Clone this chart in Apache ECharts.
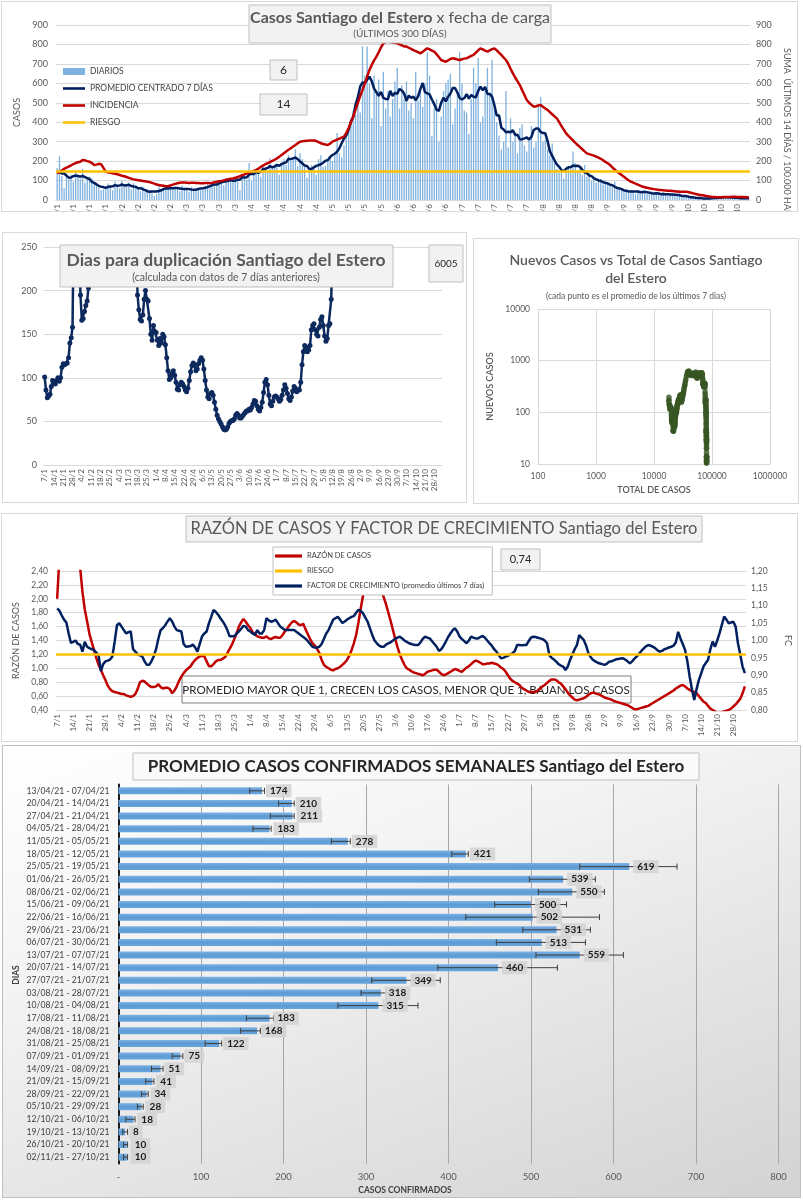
<!DOCTYPE html>
<html><head><meta charset="utf-8">
<script src="https://cdn.jsdelivr.net/npm/echarts@6/dist/echarts.min.js"></script>
<style>
body{margin:0;background:#fff;width:803px;height:1200px;position:relative;overflow:hidden}
.c{position:absolute;box-sizing:border-box;border:1px solid #d9d9d9;background:#fff}
</style></head><body>
<div id="c1" class="c" style="left:1px;top:1px;width:797px;height:211px"></div>
<div id="c2" class="c" style="left:2px;top:232px;width:465px;height:271px"></div>
<div id="c3" class="c" style="left:473px;top:238px;width:326px;height:266px"></div>
<div id="c4" class="c" style="left:1px;top:513px;width:797px;height:229px"></div>
<div id="c5" class="c" style="left:2px;top:745px;width:799px;height:453px;border-color:#bfbfbf;background:linear-gradient(160deg,#ffffff 0%,#f3f3f3 35%,#e2e2e2 70%,#d3d3d3 100%)"></div>
<script>
// ---------------- DATA ----------------
const START_DATE = [2021, 0, 7];   // 7/1/2021, 300 days
const NUM_DAYS = 300;

// daily confirmed cases (by upload date)
const dailyCases = [
165,225,125,60,140,105,130, 95,150,130,110,160,90,105, 120,110,90,80,60,50,55, 60,85,75,50,95,70,60,
100,65,80,90,55,85,70, 60,45,70,40,55,50,35, 20,30,75,45,50,70,60, 65,55,70,60,45,75,62,
50,40,65,55,45,60,50, 55,70,80,60,65,85,80, 90,100,75,110,95,105,100, 110,120,50,115,130,105,190,
100,130,150,140,120,175,160, 150,215,165,170,185,130,190, 210,180,230,200,215,260,175, 240,210,170,115,150,180,160,
130,210,230,170,175,210,220, 200,230,345,240,220,280,350, 380,400,460,440,520,450,790, 640,790,600,420,640,560,620,
380,660,470,560,430,520,610, 680,470,590,520,610,460,500, 420,660,510,560,480,600,760, 640,330,470,520,300,430,560,
600,620,650,390,470,540,760, 600,460,450,340,520,680,600, 730,400,430,560,680,550,720, 480,400,330,260,300,560,270,
420,300,350,240,370,390,280, 250,310,380,270,300,480,530, 300,310,260,230,290,200,160, 140,150,110,145,170,160,250,
190,150,175,130,180,120,140, 100,120,90,110,105,80,100, 85,70,65,95,55,60,50, 40,55,35,50,45,30,50,
45,50,35,30,40,45,30, 35,30,25,40,30,20,35, 30,25,20,35,25,15,20, 15,10,20,12,8,10,5,
8,10,5,12,6,9,12, 15,10,18,12,20,8,14, 10,8,9,8,10,9];

// incidence: sum of last 14 days / 100.000 inhabitants
const incidence = [
137,145,152,160,166,172,178,185,190,194, 197,206,204,200,197,190,180,182,186,184,
165,146,142,140,137,135,132,129,125,122, 118,114,110,106,104,102,100,98,96,94,
92,88,84,80,77,75,73,71,72,75, 79,83,86,89,90,90,89,88,89,89,
88,87,86,86,87,88,86,88,91,94, 96,98,101,104,107,109,111,114,118,123,
128,132,137,141,145,150,154,162,170,177, 184,189,195,201,207,214,222,231,240,249,
258,266,275,283,292,300,302,304,305,306, 306,306,303,298,292,288,285,283,290,300,
305,310,316,321,326,345,370,400,429,465, 500,535,566,600,635,669,695,718,737,760,
785,806,812,815,812,810,808,806,800,795, 790,789,783,777,771,766,760,754,762,772,
780,775,768,763,750,735,720,715,711,718, 725,729,726,723,720,724,727,729,735,741,
746,758,770,780,775,768,763,770,776,780, 770,758,746,733,720,700,675,651,630,610,
591,565,540,514,500,490,480,482,486,489, 480,471,463,452,441,430,420,400,380,362,
343,330,318,306,294,283,272,261,250,240, 236,232,228,223,218,212,204,196,189,180,
168,157,146,137,128,119,110,102,94,89, 84,79,74,69,66,63,60,58,56,54,
52,51,50,49,48,47,46,45,44,43, 43,43,43,40,37,34,31,28,26,24,
22,20,18,16,15,14,14,14,15,15, 16,16,17,17,16,16,15,15,14,14];

const RIESGO_INCIDENCIA = 150;
const BOX_TOP_1 = '6';
const BOX_TOP_2 = '14';

// days for doubling (computed with previous 7 days)
const doublingDays = [
101,86,77,79,81,90,97,95,93,97, 100,96,100,112,116,115,116,117,123,140,
146,158,290,330,310,280,260,195,166,168, 176,183,188,203,270,300,340,380,420,460,
500,520,560,600,580,550,520,500,470,450, 430,420,410,400,390,380,370,360,350,340,
330,320,310,300,290,285,280,275,270,265, 195,178,167,165,172,190,200,190,188,168,
150,143,160,153,152,143,137,145,140,150, 147,138,123,108,98,100,105,108,103,95,
87,86,92,95,93,90,86,84,88,97, 107,114,117,115,108,110,116,120,123,120,
110,97,86,78,76,82,83,80,72,64, 57,53,50,47,44,41,40,41,44,48,
50,51,51,53,57,59,57,54,54,56, 58,60,62,62,64,63,66,70,74,73,
68,64,62,66,72,83,95,98,92,80, 70,68,73,78,79,78,76,73,75,80,
86,92,88,82,76,74,78,85,90,88, 84,86,86,95,115,130,137,135,130,132,
137,155,160,162,155,150,148,158,167,170, 160,148,142,145,160,162,190,260];
const BOX_DOUBLING = '6005';

// total cases before the first day shown (scatter x origin)
const TOTAL_BEFORE = 17700;

// case ratio (left axis) and growth factor (right axis)
const razonCasos = [
2.00,2.60,3.00,3.20,3.30,3.30,3.20,3.00,2.80,2.60, 2.45,2.10,1.85,1.68,1.50,1.38,1.27,1.15,1.05,0.98,
0.90,0.83,0.75,0.70,0.67,0.66,0.65,0.64,0.63,0.63, 0.61,0.60,0.59,0.60,0.63,0.70,0.80,0.82,0.81,0.78,
0.75,0.73,0.73,0.74,0.77,0.73,0.71,0.72,0.72,0.70, 0.64,0.68,0.74,0.82,0.88,0.93,0.97,1.00,1.03,1.08,
1.12,1.15,1.17,1.18,1.17,1.10,1.03,1.03,1.06,1.10, 1.12,1.12,1.14,1.16,1.22,1.28,1.34,1.42,1.50,1.60,
1.66,1.71,1.67,1.62,1.58,1.52,1.49,1.46,1.45,1.44, 1.44,1.46,1.43,1.42,1.44,1.45,1.44,1.44,1.48,1.53,
1.57,1.62,1.66,1.68,1.66,1.63,1.62,1.64,1.56,1.49, 1.42,1.36,1.33,1.28,1.22,1.12,1.05,1.02,1.00,0.98,
0.97,0.99,1.00,1.02,1.05,1.08,1.12,1.18,1.26,1.36, 1.48,1.66,1.86,2.05,2.20,2.32,2.42,2.45,2.42,2.35,
2.25,2.12,2.02,1.92,1.80,1.68,1.55,1.42,1.30,1.20, 1.12,1.05,1.00,0.98,0.96,0.94,0.93,0.92,0.91,0.90,
0.92,0.95,0.96,0.97,0.98,0.98,0.95,0.92,0.90,0.91, 0.93,0.95,0.97,0.99,0.98,0.96,0.95,0.98,1.01,1.03,
1.06,1.09,1.11,1.10,1.08,1.06,1.06,1.07,1.07,1.08, 1.07,1.06,1.04,1.01,0.99,0.95,0.90,0.85,0.82,0.80,
0.78,0.76,0.72,0.70,0.68,0.66,0.66,0.66,0.66,0.68, 0.71,0.74,0.76,0.79,0.82,0.84,0.84,0.83,0.80,0.78,
0.74,0.70,0.65,0.61,0.58,0.55,0.54,0.55,0.56,0.57, 0.59,0.62,0.64,0.65,0.64,0.63,0.62,0.60,0.58,0.57,
0.56,0.55,0.53,0.52,0.51,0.50,0.49,0.48,0.47,0.45, 0.43,0.41,0.41,0.42,0.43,0.44,0.45,0.46,0.48,0.50,
0.52,0.54,0.56,0.58,0.60,0.62,0.64,0.66,0.68,0.71, 0.73,0.75,0.76,0.74,0.71,0.69,0.67,0.66,0.64,0.60,
0.56,0.52,0.50,0.46,0.42,0.40,0.38,0.36,0.36,0.37, 0.38,0.39,0.40,0.42,0.45,0.48,0.52,0.56,0.64,0.74];

const factorCrecimiento = [
1.092,1.086,1.072,1.060,1.052,1.020,0.993,0.996,1.000,0.990, 0.988,0.968,0.996,0.982,0.978,0.975,0.972,0.965,0.958,0.912,
0.932,0.940,0.942,0.945,0.954,0.996,1.044,1.050,1.040,1.030, 1.020,1.024,1.026,0.975,0.968,0.960,0.957,0.954,0.940,0.930,
0.930,0.940,0.955,0.975,1.005,1.030,1.036,1.044,1.055,1.064, 1.055,1.040,1.030,1.028,1.026,0.990,0.982,0.983,0.984,0.988,
0.980,0.968,0.990,1.012,1.020,1.026,1.050,1.068,1.088,1.082, 1.074,1.064,1.055,1.044,1.030,1.012,1.012,1.012,1.020,1.026,
1.034,1.042,1.040,1.030,1.026,1.020,1.016,1.030,1.020,1.020, 1.030,1.064,1.058,1.054,1.056,1.060,1.050,1.040,1.035,1.030,
1.030,1.030,1.030,1.030,1.025,1.020,1.015,1.010,1.005,0.998, 0.990,0.982,0.980,0.980,0.982,0.990,1.005,1.020,1.030,1.045,
1.060,1.064,1.068,1.060,1.050,1.055,1.060,1.064,1.068,1.070, 1.080,1.088,1.085,1.078,1.066,1.054,1.035,1.016,1.000,0.992,
0.985,0.982,0.982,0.988,0.992,0.995,1.000,1.005,1.008,1.011, 1.006,1.000,0.996,0.992,0.990,0.988,0.987,0.987,0.995,1.005,
1.011,1.008,1.006,0.998,0.990,0.982,0.970,0.975,0.985,0.997, 1.010,1.020,1.030,1.035,1.025,1.011,1.004,0.998,0.992,1.000,
1.011,1.008,1.006,1.006,1.010,1.013,1.008,1.000,0.992,0.985, 0.975,0.968,0.958,0.949,0.950,0.954,0.956,0.960,0.963,0.970,
0.987,0.987,0.986,0.987,0.987,0.998,1.008,1.011,1.010,1.008, 1.006,1.004,1.000,0.992,0.958,0.950,0.945,0.939,0.932,0.928,
0.925,0.915,0.925,0.944,0.960,0.975,0.987,1.016,1.008,1.001, 0.985,0.963,0.952,0.944,0.940,0.936,0.934,0.932,0.930,0.933,
0.939,0.940,0.943,0.946,0.947,0.948,0.949,0.945,0.940,0.934, 0.940,0.948,0.954,0.962,0.970,0.977,0.983,0.987,0.985,0.982,
0.978,0.972,0.968,0.970,0.975,0.977,0.980,0.982,0.985,0.995, 1.025,1.006,0.990,0.973,0.940,0.896,0.860,0.829,0.860,0.886,
0.905,0.925,0.935,0.944,0.975,0.997,0.982,1.000,1.021,1.045, 1.069,1.060,1.049,1.052,1.054,1.040,0.992,0.960,0.925,0.906];
const RIESGO_RAZON = 1.2;
const BOX_RAZON = '0,74';

// weekly averages
const weekLabels = ['13/04/21 - 07/04/21','20/04/21 - 14/04/21','27/04/21 - 21/04/21','04/05/21 - 28/04/21','11/05/21 - 05/05/21',
'18/05/21 - 12/05/21','25/05/21 - 19/05/21','01/06/21 - 26/05/21','08/06/21 - 02/06/21','15/06/21 - 09/06/21',
'22/06/21 - 16/06/21','29/06/21 - 23/06/21','06/07/21 - 30/06/21','13/07/21 - 07/07/21','20/07/21 - 14/07/21',
'27/07/21 - 21/07/21','03/08/21 - 28/07/21','10/08/21 - 04/08/21','17/08/21 - 11/08/21','24/08/21 - 18/08/21',
'31/08/21 - 25/08/21','07/09/21 - 01/09/21','14/09/21 - 08/09/21','21/09/21 - 15/09/21','28/09/21 - 22/09/21',
'05/10/21 - 29/09/21','12/10/21 - 06/10/21','19/10/21 - 13/10/21','26/10/21 - 20/10/21','02/11/21 - 27/10/21'];
const weekAvg  = [174,210,211,183,278,421,619,539,550,500,502,531,513,559,460,349,318,315,183,168,122,75,51,41,34,28,18,8,10,10];
const weekLow  = [159,194,184,163,258,404,559,498,509,456,421,490,458,506,387,307,294,266,155,148,105,65,40,33,28,23,9,5,6,6];
const weekHigh = [177,213,213,185,281,424,677,578,589,543,583,572,566,612,532,390,330,363,188,172,125,78,54,43,36,30,20,11,11,11];

// ---------------- HELPERS ----------------
const FONT = 'Lato, "Liberation Sans", sans-serif';
const dates = [];
for (let i = 0; i < NUM_DAYS; i++) {
  const d = new Date(START_DATE[0], START_DATE[1], START_DATE[2] + i);
  dates.push(d.getDate() + '/' + (d.getMonth() + 1));
}
const centered7 = dailyCases.map((_, i) => {
  let s = 0, n = 0;
  for (let k = i - 3; k <= i + 3; k++) if (k >= 0 && k < dailyCases.length) { s += dailyCases[k]; n++; }
  return +(s / n).toFixed(1);
});
const scatterPts = [];
(function () {
  let cum = TOTAL_BEFORE;
  for (let i = 0; i < dailyCases.length; i++) {
    cum += dailyCases[i];
    let s = 0, n = 0;
    for (let k = Math.max(0, i - 6); k <= i; k++) { s += dailyCases[k]; n++; }
    scatterPts.push([cum, +(s / n).toFixed(1)]);
  }
})();
const Z = 100;
function box(x, y, w, h, text, font, fill) {
  return { type: 'group', children: [
    { type: 'rect', z: Z, shape: { x: x, y: y, width: w, height: h }, style: { fill: fill || '#f2f2f2', stroke: '#bfbfbf', lineWidth: 1 } },
    { type: 'text', z: Z + 1, x: x + w / 2, y: y + h / 2, style: { text: text, font: font, fill: '#262626', align: 'center', verticalAlign: 'middle' } }
  ]};
}
function dateXAxis() {
  return { type: 'category', data: dates, boundaryGap: true,
    axisLine: { show: true, lineStyle: { color: '#d9d9d9' } }, axisTick: { show: false },
    axisLabel: { interval: 6, rotate: 90, fontSize: 8, color: '#595959', fontFamily: FONT, margin: 4 } };
}
const gridLine = { show: true, lineStyle: { color: '#d9d9d9', width: 1 } };
const LINE_ICON = 'path://M0,0L22,0L22,2.6L0,2.6Z';
const gridBase = { outerBoundsMode: 'none', containLabel: false };

// ---------------- CHART 1 ----------------
const c1 = echarts.init(document.getElementById('c1'));
c1.setOption({
  animation: false,
  textStyle: { fontFamily: FONT },
  grid: Object.assign({ left: 54, width: 694, top: 23, height: 175 }, gridBase),
  legend: { orient: 'vertical', left: 61, top: 65, padding: 0, itemGap: 8, itemWidth: 22, itemHeight: 7, symbolKeepAspect: true,
    textStyle: { fontSize: 8.5, color: '#404040', fontFamily: FONT },
    data: [{ name: 'DIARIOS', icon: 'rect' }, { name: 'PROMEDIO CENTRADO 7 DÍAS', icon: LINE_ICON }, { name: 'INCIDENCIA', icon: LINE_ICON }, { name: 'RIESGO', icon: LINE_ICON }] },
  xAxis: dateXAxis(),
  yAxis: [
    { type: 'value', min: 0, max: 900, interval: 100, name: 'CASOS', nameLocation: 'middle', nameGap: 30,
      nameTextStyle: { fontSize: 9, color: '#595959' }, axisLabel: { fontSize: 9, color: '#595959', margin: 8 },
      splitLine: gridLine, axisLine: { show: false }, axisTick: { show: false } },
    { type: 'value', min: 0, max: 900, interval: 100, position: 'right',
      axisLabel: { fontSize: 9, color: '#595959', margin: 6 }, splitLine: { show: false },
      axisLine: { show: false }, axisTick: { show: false } }
  ],
  series: [
    { name: 'DIARIOS', type: 'bar', data: dailyCases, barWidth: 1.3, itemStyle: { color: '#7fb1df' }, z: 1 },
    { name: 'PROMEDIO CENTRADO 7 DÍAS', type: 'line', data: centered7, symbol: 'none', lineStyle: { color: '#002060', width: 2.5 }, itemStyle: { color: '#002060' }, z: 3 },
    { name: 'INCIDENCIA', type: 'line', yAxisIndex: 1, data: incidence, symbol: 'none', lineStyle: { color: '#c00000', width: 2.5 }, itemStyle: { color: '#c00000' }, z: 3 },
    { name: 'RIESGO', type: 'line', yAxisIndex: 1, data: [], symbol: 'none', lineStyle: { color: '#ffc000', width: 2.5 }, itemStyle: { color: '#ffc000' },
      markLine: { silent: true, symbol: 'none', label: { show: false }, lineStyle: { color: '#ffc000', width: 2.5, type: 'solid' }, data: [{ yAxis: RIESGO_INCIDENCIA }] }, z: 4 }
  ],
  graphic: [
    { type: 'rect', z: Z, shape: { x: 247, y: 3, width: 302, height: 38 }, style: { fill: '#f2f2f2', stroke: '#bfbfbf' } },
    { type: 'text', z: Z + 1, x: 398, y: 16, style: { text: '{b|Casos Santiago del Estero} x fecha de carga', align: 'center', verticalAlign: 'middle',
        fontSize: 16, fontFamily: FONT, fill: '#595959', rich: { b: { fontSize: 16, fontWeight: 'bold', fontFamily: FONT, fill: '#595959' } } } },
    { type: 'text', z: Z + 1, x: 398, y: 32, style: { text: '(ÚLTIMOS 300 DÍAS)', align: 'center', verticalAlign: 'middle', font: '10px ' + FONT, fill: '#595959' } },
    box(268, 58, 27, 20, BOX_TOP_1, '12px ' + FONT),
    box(258, 92, 47, 21, BOX_TOP_2, '12px ' + FONT),
    { type: 'text', z: Z, x: 785, y: 46, rotation: -Math.PI / 2, style: { text: 'SUMA  ÚLTIMOS 14 DÍAS / 100.000 HAB', font: '9px ' + FONT, fill: '#595959', align: 'left', verticalAlign: 'middle' } }
  ]
});

// ---------------- CHART 2 ----------------
const c2 = echarts.init(document.getElementById('c2'));
c2.setOption({
  animation: false,
  textStyle: { fontFamily: FONT },
  grid: Object.assign({ left: 41, width: 398, top: 14, height: 218 }, gridBase),
  xAxis: dateXAxis(),
  yAxis: { type: 'value', min: 0, max: 250, interval: 50, axisLabel: { fontSize: 9, color: '#595959', margin: 7 },
    splitLine: gridLine, axisLine: { show: false }, axisTick: { show: false } },
  series: [{ name: 'Días para duplicación', type: 'line', data: doublingDays, clip: true, connectNulls: false,
    symbol: 'circle', symbolSize: 5, showAllSymbol: true, lineStyle: { color: '#0d2a5e', width: 2.5 }, itemStyle: { color: '#0d2a5e' } }],
  graphic: [
    { type: 'rect', z: Z, shape: { x: 57, y: 12, width: 333, height: 42 }, style: { fill: '#f2f2f2', stroke: '#bfbfbf' } },
    { type: 'text', z: Z + 1, x: 223, y: 27, style: { text: 'Dias para duplicación Santiago del Estero', align: 'center', verticalAlign: 'middle', font: 'bold 17.5px ' + FONT, fill: '#595959' } },
    { type: 'text', z: Z + 1, x: 223, y: 45, style: { text: '(calculada con datos de 7 días anteriores)', align: 'center', verticalAlign: 'middle', font: '10.5px ' + FONT, fill: '#595959' } },
    box(426, 12, 34, 37, BOX_DOUBLING, '10px ' + FONT)
  ]
});

// ---------------- CHART 3 ----------------
const c3 = echarts.init(document.getElementById('c3'));
c3.setOption({
  animation: false,
  textStyle: { fontFamily: FONT },
  title: { text: 'Nuevos Casos vs Total de Casos Santiago\ndel Estero', subtext: '(cada punto es el promedio de los últimos 7 dias)',
    left: 'center', top: 7, itemGap: 5,
    textStyle: { fontSize: 14, fontWeight: 600, color: '#595959', lineHeight: 18, fontFamily: FONT },
    subtextStyle: { fontSize: 8.5, color: '#595959', fontFamily: FONT } },
  grid: Object.assign({ left: 64, width: 232, top: 70, height: 155 }, gridBase),
  xAxis: { type: 'log', logBase: 10, min: 100, max: 1000000, name: 'TOTAL DE CASOS', nameLocation: 'middle', nameGap: 21,
    nameTextStyle: { fontSize: 9, fontWeight: 600, color: '#595959' },
    axisLabel: { fontSize: 8.5, color: '#595959', margin: 8, formatter: v => String(Math.round(v)) }, splitLine: gridLine, axisLine: { lineStyle: { color: '#d9d9d9' } }, axisTick: { show: false } },
  yAxis: { type: 'log', logBase: 10, min: 10, max: 10000, name: 'NUEVOS CASOS', nameLocation: 'middle', nameGap: 40,
    nameTextStyle: { fontSize: 9, fontWeight: 600, color: '#595959' },
    axisLabel: { fontSize: 8.5, color: '#595959', margin: 8, formatter: v => String(Math.round(v)) }, splitLine: gridLine, axisLine: { show: false }, axisTick: { show: false } },
  series: [{ type: 'scatter', data: scatterPts, symbolSize: 5.5, itemStyle: { color: '#375623' } }]
});

// ---------------- CHART 4 ----------------
const fmt2 = v => v.toFixed(2).replace('.', ',');
const c4 = echarts.init(document.getElementById('c4'));
c4.setOption({
  animation: false,
  textStyle: { fontFamily: FONT },
  grid: Object.assign({ left: 54, width: 690, top: 57, height: 139 }, gridBase),
  legend: { orient: 'vertical', left: 271, top: 33, padding: [5, 8, 5, 2], itemGap: 7, itemWidth: 27, itemHeight: 10, symbolKeepAspect: true,
    backgroundColor: '#ffffff', borderColor: '#bfbfbf', borderWidth: 1, z: 10,
    textStyle: { fontSize: 7.5, color: '#404040', fontFamily: FONT },
    data: [{ name: 'RAZÓN DE CASOS', icon: LINE_ICON }, { name: 'RIESGO', icon: LINE_ICON }, { name: 'FACTOR DE CRECIMIENTO (promedio últimos 7 días)', icon: LINE_ICON }] },
  xAxis: dateXAxis(),
  yAxis: [
    { type: 'value', min: 0.4, max: 2.4, interval: 0.2, name: 'RAZÓN DE CASOS', nameLocation: 'middle', nameGap: 35,
      nameTextStyle: { fontSize: 9, color: '#595959' }, axisLabel: { fontSize: 8.5, color: '#595959', margin: 8, formatter: fmt2 },
      splitLine: gridLine, axisLine: { show: false }, axisTick: { show: false } },
    { type: 'value', min: 0.8, max: 1.2, interval: 0.05, position: 'right', name: 'FC', nameLocation: 'middle', nameGap: 37, nameRotate: -90,
      nameTextStyle: { fontSize: 9, color: '#595959' }, axisLabel: { fontSize: 8.5, color: '#595959', margin: 5, formatter: fmt2 },
      splitLine: { show: false }, axisLine: { show: false }, axisTick: { show: false } }
  ],
  series: [
    { name: 'RAZÓN DE CASOS', type: 'line', data: razonCasos, clip: true, symbol: 'none', lineStyle: { color: '#c00000', width: 2.5 }, itemStyle: { color: '#c00000' }, z: 3 },
    { name: 'RIESGO', type: 'line', data: [], symbol: 'none', lineStyle: { color: '#ffc000', width: 2.5 }, itemStyle: { color: '#ffc000' },
      markLine: { silent: true, symbol: 'none', label: { show: false }, lineStyle: { color: '#ffc000', width: 2.5, type: 'solid' }, data: [{ yAxis: RIESGO_RAZON }] }, z: 2 },
    { name: 'FACTOR DE CRECIMIENTO (promedio últimos 7 días)', type: 'line', yAxisIndex: 1, data: factorCrecimiento, clip: true, symbol: 'none',
      lineStyle: { color: '#002060', width: 2.5 }, itemStyle: { color: '#002060' }, z: 4 }
  ],
  graphic: [
    { type: 'rect', z: Z, shape: { x: 184, y: 2, width: 516, height: 26 }, style: { fill: '#f2f2f2', stroke: '#bfbfbf' } },
    { type: 'text', z: Z + 1, x: 442, y: 15, style: { text: 'RAZÓN DE CASOS Y FACTOR DE CRECIMIENTO Santiago del Estero', align: 'center', verticalAlign: 'middle', font: '16.5px ' + FONT, fill: '#595959' } },
    box(499, 35, 39, 21, BOX_RAZON, '11px ' + FONT),
    { type: 'rect', z: 1, shape: { x: 180, y: 162, width: 449, height: 27 }, style: { fill: 'rgba(255,255,255,0)', stroke: '#7f7f7f' } },
    { type: 'text', z: 1, x: 404, y: 176, style: { text: 'PROMEDIO MAYOR QUE 1, CRECEN LOS CASOS, MENOR QUE 1, BAJAN LOS CASOS', align: 'center', verticalAlign: 'middle', font: '11.5px ' + FONT, fill: '#262626' } }
  ]
});

// ---------------- CHART 5 ----------------
const errData = weekAvg.map((v, i) => [i, weekLow[i], weekHigh[i], v]);
const c5 = echarts.init(document.getElementById('c5'));
c5.setOption({
  animation: false,
  textStyle: { fontFamily: FONT },
  grid: Object.assign({ left: 115.5, width: 660, top: 38.5, height: 379 }, gridBase),
  xAxis: { type: 'value', min: 0, max: 800, interval: 100,
    axisLabel: { fontSize: 9.5, color: '#595959', margin: 8, formatter: v => v === 0 ? '-' : String(v) },
    splitLine: { show: true, lineStyle: { color: '#a6a6a6', width: 1 } }, axisLine: { show: false }, axisTick: { show: false } },
  yAxis: { type: 'category', data: weekLabels, inverse: true,
    axisLabel: { interval: 0, fontSize: 8.6, color: '#404040', margin: 9 },
    axisLine: { show: true, lineStyle: { color: '#1a1a1a', width: 2 } }, axisTick: { show: false } },
  series: [
    { type: 'bar', data: weekAvg, barWidth: 7,
      itemStyle: { color: new echarts.graphic.LinearGradient(0, 0, 0, 1, [{ offset: 0, color: '#7fb2e3' }, { offset: 0.5, color: '#5b9bd5' }, { offset: 1, color: '#6aa5dc' }]) }, z: 2 },
    { type: 'custom', data: errData, encode: { x: [1, 2, 3], y: 0 }, z: 3,
      renderItem: function (params, api) {
        const idx = api.value(0), lo = api.value(1), hi = api.value(2), v = api.value(3);
        const pLo = api.coord([lo, idx]), pHi = api.coord([hi, idx]), pV = api.coord([v, idx]);
        const y = pLo[1];
        const st = { stroke: '#3f3f3f', lineWidth: 1 };
        return { type: 'group', children: [
          { type: 'line', shape: { x1: pLo[0], y1: y, x2: pHi[0], y2: y }, style: st },
          { type: 'line', shape: { x1: pLo[0], y1: y - 3, x2: pLo[0], y2: y + 3 }, style: st },
          { type: 'line', shape: { x1: pHi[0], y1: y - 3, x2: pHi[0], y2: y + 3 }, style: st },
          { type: 'text', z2: 10, x: pV[0] + 4, y: y, style: { text: String(v), font: 'bold 10px ' + FONT, fill: '#1a1a1a', align: 'left', verticalAlign: 'middle',
              backgroundColor: 'rgba(210,210,210,0.85)', padding: [2, 4, 1, 4] } }
        ]};
      } }
  ],
  graphic: [
    { type: 'rect', z: Z, shape: { x: 130, y: 7, width: 566, height: 27 }, style: { fill: '#fafafa', stroke: '#bfbfbf' } },
    { type: 'text', z: Z + 1, x: 413, y: 21, style: { text: 'PROMEDIO CASOS CONFIRMADOS SEMANALES Santiago del Estero', align: 'center', verticalAlign: 'middle', font: 'bold 17px ' + FONT, fill: '#262626' } },
    { type: 'text', z: Z, x: 402, y: 444, style: { text: 'CASOS CONFIRMADOS', align: 'center', verticalAlign: 'middle', font: 'bold 8.5px ' + FONT, fill: '#404040' } },
    { type: 'text', z: Z, x: 13, y: 229, rotation: Math.PI / 2, style: { text: 'DIAS', align: 'center', verticalAlign: 'middle', font: 'bold 8.5px ' + FONT, fill: '#404040' } }
  ]
});
</script>
</body></html>
